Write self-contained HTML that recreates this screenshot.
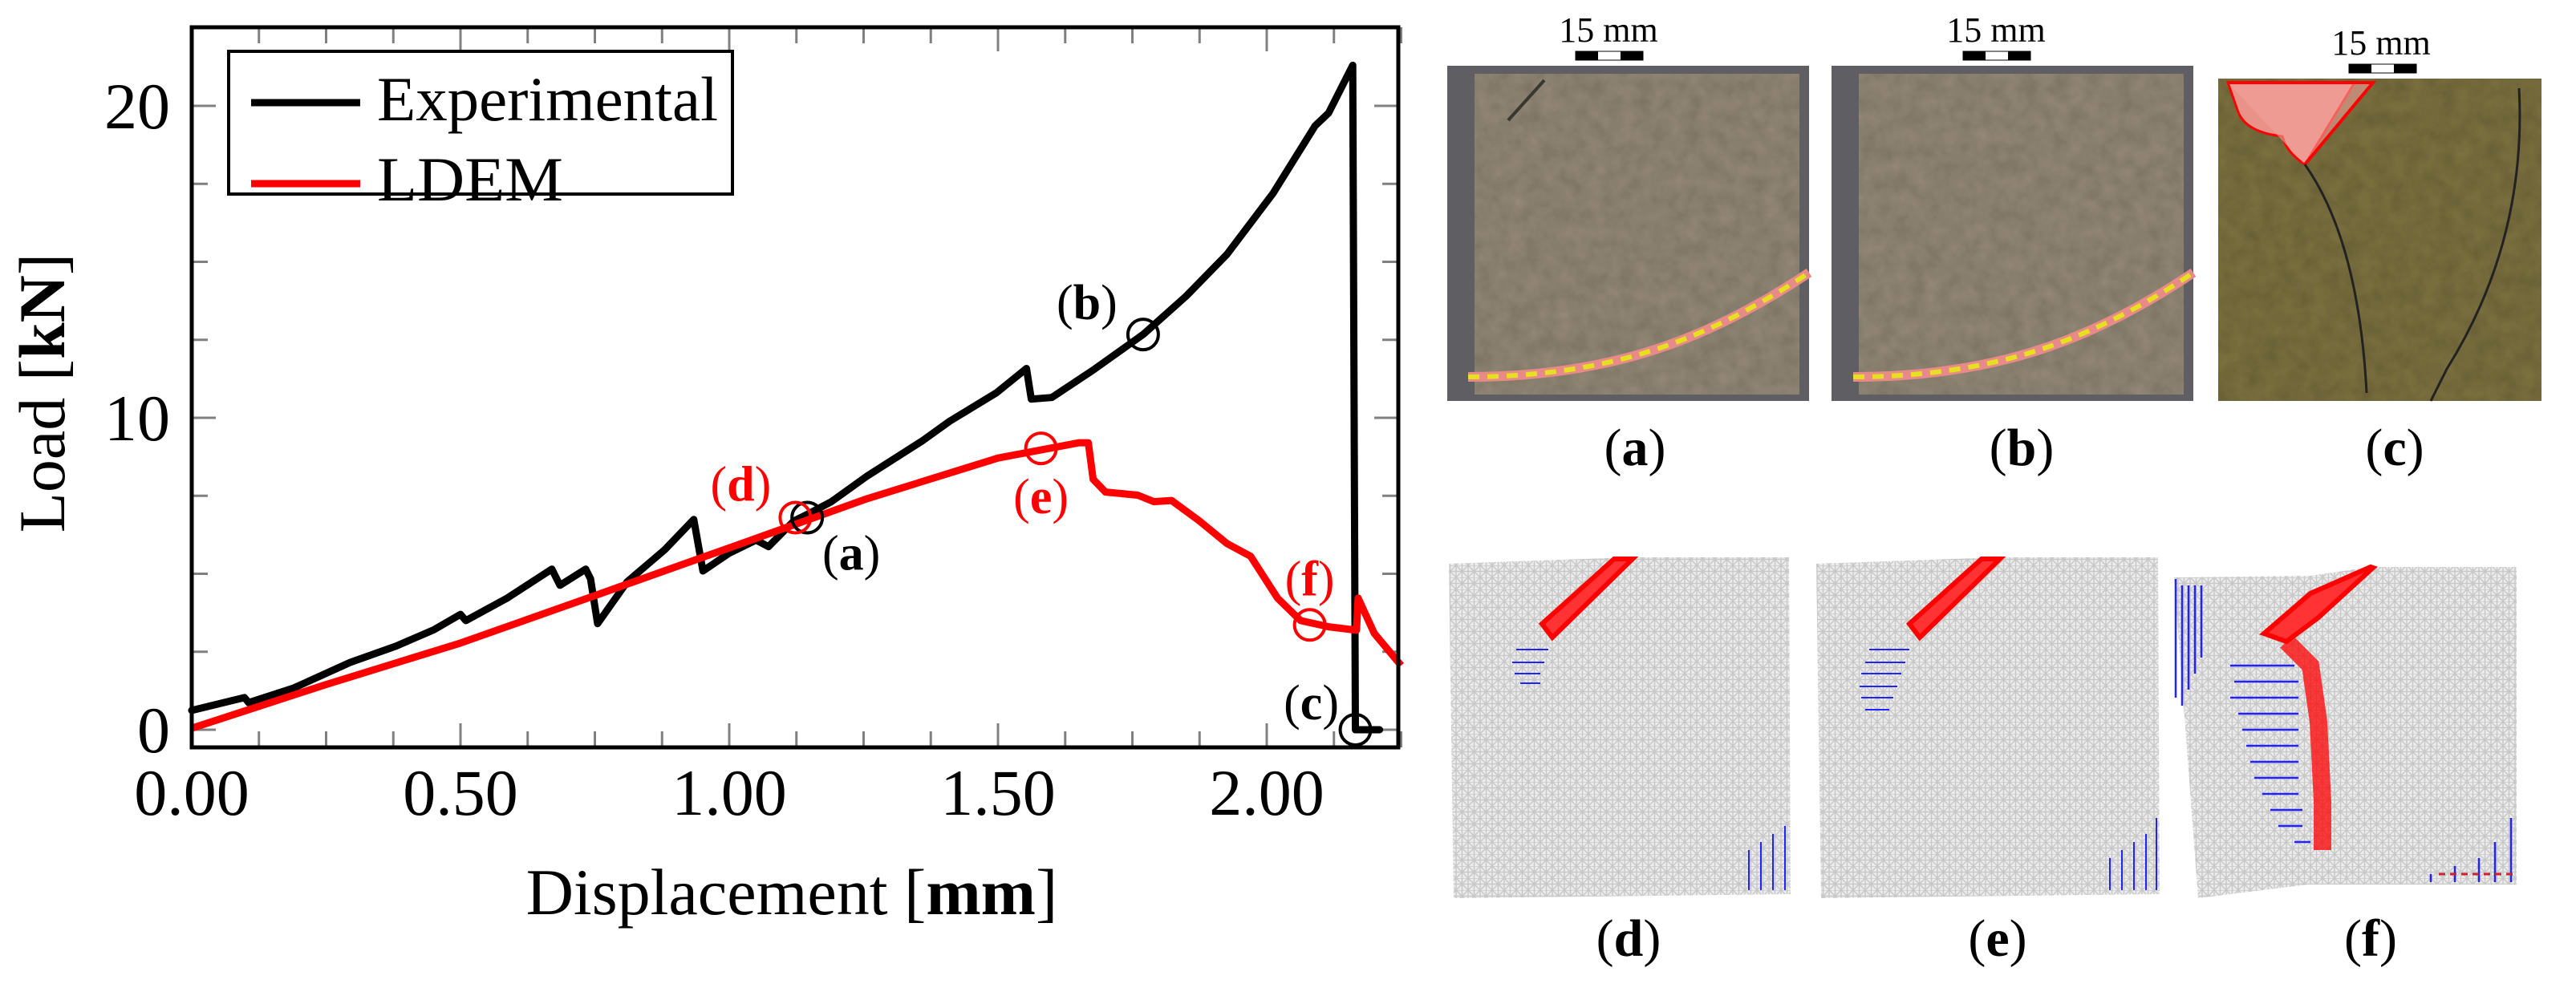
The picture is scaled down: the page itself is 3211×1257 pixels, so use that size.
<!DOCTYPE html>
<html><head><meta charset="utf-8">
<style>
html,body{margin:0;padding:0;background:#fff;}
svg{display:block;}
text{font-family:"Liberation Serif",serif;}
</style></head>
<body>
<svg id="fig" width="3211" height="1257" viewBox="0 0 3211 1257" xmlns="http://www.w3.org/2000/svg">
<defs>
  <pattern id="mesh" width="15" height="15" patternUnits="userSpaceOnUse">
    <rect width="15" height="15" fill="#ececec"/>
    <path d="M0 0H15V15M0 0V15M0 0L15 15M15 0L0 15M7.5 0V15M0 7.5H15" stroke="#c8c8c8" stroke-width="1.5" fill="none"/>
  </pattern>
  <filter id="grain" x="0" y="0" width="100%" height="100%">
    <feTurbulence type="fractalNoise" baseFrequency="0.05" numOctaves="3" seed="3" result="n"/>
    <feColorMatrix in="n" type="matrix" values="0 0 0 0 0  0 0 0 0 0  0 0 0 0 0  0 0 0 0.35 0" result="a"/>
    <feComposite in="a" in2="SourceGraphic" operator="in" result="b"/>
    <feBlend in="SourceGraphic" in2="b" mode="multiply"/>
  </filter>
</defs>

<!-- ===== Chart ===== -->
<g id="chart">
  <g id="grid-ticks"></g>
  <g id="series"></g>
  <g id="markers"></g>
  <rect x="239" y="34" width="1504" height="898" fill="none" stroke="#000" stroke-width="5"/>
  <g id="ticklabels"></g>
  <text x="987" y="1140" font-size="82" text-anchor="middle">Displacement [<tspan font-weight="bold">mm</tspan>]</text>
  <text transform="translate(80,490) rotate(-90)" font-size="82" text-anchor="middle">Load [<tspan font-weight="bold">kN</tspan>]</text>
  <g>
    <rect x="285" y="64" width="628" height="178" fill="#fff" stroke="#000" stroke-width="4"/>
    <line x1="313" y1="128" x2="449" y2="128" stroke="#000" stroke-width="9"/>
    <text x="470" y="150" font-size="78" textLength="425" lengthAdjust="spacingAndGlyphs">Experimental</text>
    <line x1="313" y1="229" x2="449" y2="229" stroke="#f00" stroke-width="9"/>
    <text x="470" y="250" font-size="78" textLength="232" lengthAdjust="spacingAndGlyphs">LDEM</text>
  </g>
</g>

<!-- ===== Photos ===== -->
<g>
  <rect x="1804" y="82" width="451" height="418" fill="#5f5e63"/>
  <rect x="1838" y="92" width="405" height="400" fill="#958a78" filter="url(#grain)"/>
  <path d="M1880 150 L1925 100" stroke="#3a3630" stroke-width="4"/>
  <path d="M1830 470 Q1950 470 2050 440 T2255 340" stroke="#e88a88" stroke-width="12" fill="none"/>
  <path d="M1830 470 Q1950 470 2050 440 T2255 340" stroke="#e6e020" stroke-width="6" stroke-dasharray="14 10" fill="none"/>
</g>
<g>
  <rect x="2283" y="82" width="451" height="418" fill="#5f5e63"/>
  <rect x="2317" y="92" width="405" height="400" fill="#958a78" filter="url(#grain)"/>
  <path d="M2310 470 Q2430 470 2530 440 T2734 340" stroke="#e88a88" stroke-width="12" fill="none"/>
  <path d="M2310 470 Q2430 470 2530 440 T2734 340" stroke="#e6e020" stroke-width="6" stroke-dasharray="14 10" fill="none"/>
</g>
<g>
  <rect x="2765" y="98" width="403" height="402" fill="#7d7240" filter="url(#grain)"/>
  <path d="M2777 103 L2935 103 L2873 205 Q2850 190 2845 170 Q2800 165 2790 140 Z" fill="#e8928a" stroke="#f00" stroke-width="3"/>
  <path d="M2777 103 L2958 103 L2873 205" fill="#f2a29a" fill-opacity="0.6" stroke="#f00" stroke-width="4"/>
  <path d="M2873 205 Q2940 300 2950 490" stroke="#222" stroke-width="3" fill="none"/>
  <path d="M3140 110 Q3150 300 3050 460 L3030 500" stroke="#222" stroke-width="3" fill="none"/>
</g>
<g>
  <text x="2005" y="52" font-size="44" text-anchor="middle">15  mm</text>
  <rect x="1964" y="64" width="84" height="11" fill="#fff" stroke="#000" stroke-width="1"/><rect x="1964" y="64" width="28" height="11" fill="#000"/><rect x="2020" y="64" width="28" height="11" fill="#000"/>
  <text x="2488" y="52" font-size="44" text-anchor="middle">15  mm</text>
  <rect x="2447" y="64" width="84" height="11" fill="#fff" stroke="#000" stroke-width="1"/><rect x="2447" y="64" width="28" height="11" fill="#000"/><rect x="2503" y="64" width="28" height="11" fill="#000"/>
  <text x="2968" y="68" font-size="44" text-anchor="middle">15  mm</text>
  <rect x="2928" y="80" width="84" height="11" fill="#fff" stroke="#000" stroke-width="1"/><rect x="2928" y="80" width="28" height="11" fill="#000"/><rect x="2984" y="80" width="28" height="11" fill="#000"/>
</g>
<g font-size="66" text-anchor="middle">
  <text x="2038" y="580">(<tspan font-weight="bold">a</tspan>)</text>
  <text x="2520" y="580">(<tspan font-weight="bold">b</tspan>)</text>
  <text x="2985" y="580">(<tspan font-weight="bold">c</tspan>)</text>
  <text x="2030" y="1192">(<tspan font-weight="bold">d</tspan>)</text>
  <text x="2490" y="1192">(<tspan font-weight="bold">e</tspan>)</text>
  <text x="2955" y="1192">(<tspan font-weight="bold">f</tspan>)</text>
</g>

<!-- ===== Meshes ===== -->
<g>
  <path d="M1806 703 L2030 695 L2230 695 L2232 1115 L1812 1120 Z" fill="url(#mesh)"/>
  <path d="M1922 778 L2012 697 L2035 697 L1935 795 Z" fill="#f33" stroke="#f00" stroke-width="6"/>
  <g stroke="#22f" stroke-width="2"><path d="M1890 810H1930M1885 826H1925M1888 840H1920M1895 852H1920"/><path d="M2180 1110V1060M2195 1110V1050M2210 1110V1040M2225 1110V1030"/></g>
</g>
<g>
  <path d="M2264 703 L2490 695 L2690 695 L2692 1115 L2270 1120 Z" fill="url(#mesh)"/>
  <path d="M2380 778 L2470 697 L2493 697 L2393 795 Z" fill="#f33" stroke="#f00" stroke-width="6"/>
  <g stroke="#22f" stroke-width="2"><path d="M2330 810H2380M2325 826H2375M2320 840H2370M2318 856H2365M2320 870H2360M2325 885H2355"/><path d="M2630 1110V1070M2645 1110V1060M2660 1110V1050M2675 1110V1040M2688 1110V1020"/></g>
</g>
<g>
  <path d="M2710 720 L2880 718 L2955 707 L3137 707 L3137 1103 L2877 1103 L2740 1120 Z" fill="url(#mesh)"/>
  <path d="M2822 790 L2880 740 L2955 707 L2958 708 L2890 770 L2850 800 Z" fill="#f33" stroke="#f00" stroke-width="6"/>
  <path d="M2850 800 L2880 830 L2890 900 L2895 1000 L2895 1060" stroke="#f00" stroke-width="22" fill="none" stroke-opacity="0.75"/>
  <g stroke="#22f" stroke-width="2.5"><path d="M2712 722V870M2720 730V880M2728 730V860M2736 730V840M2744 730V820"/>
  <path d="M2780 830H2860M2785 850H2865M2780 870H2865M2790 890H2865M2795 910H2865M2800 930H2865M2805 950H2865M2810 970H2865M2820 990H2865M2830 1010H2870M2840 1030H2870M2860 1050H2880"/>
  <path d="M3030 1100V1090M3060 1100V1080M3090 1100V1070M3110 1100V1050M3130 1100V1020"/></g>
  <path d="M3040 1090 L3135 1090" stroke="#c23" stroke-width="3" stroke-dasharray="8 6"/>
</g>

<script>
// ---- Chart data ----
const expX = [0,0.098,0.106,0.19,0.295,0.38,0.45,0.50,0.51,0.587,0.67,0.685,0.733,0.742,0.755,0.81,0.88,0.934,0.951,1.0,1.05,1.073,1.12,1.145,1.19,1.257,1.36,1.41,1.497,1.553,1.562,1.6,1.677,1.77,1.85,1.926,2.012,2.09,2.115,2.16,2.165,2.21];
const expY = [0.62,1.03,0.87,1.34,2.16,2.68,3.2,3.7,3.5,4.22,5.15,4.63,5.15,4.84,3.4,4.74,5.77,6.74,5.09,5.66,6.08,5.87,6.69,6.9,7.31,8.14,9.27,9.89,10.8,11.58,10.6,10.65,11.53,12.67,13.9,15.24,17.2,19.36,19.77,21.3,0,0];
const ldemX = [0,0.25,0.5,0.75,1.0,1.257,1.5,1.651,1.668,1.677,1.7,1.76,1.79,1.823,1.875,1.926,1.97,2.02,2.063,2.115,2.167,2.17,2.2,2.25];
const ldemY = [0.05,1.45,2.78,4.3,5.83,7.41,8.71,9.2,9.2,8.03,7.62,7.52,7.31,7.35,6.69,5.97,5.56,4.22,3.5,3.3,3.19,4.22,3.09,2.06];
const xTicks = [0,0.5,1.0,1.5,2.0];
const xTickLabels = ["0.00","0.50","1.00","1.50","2.00"];
const yTicks = [0,10,20];
const yTickLabels = ["0","10","20"];
const markerNames = ["a","b","c","d","e","f"];
const markerX = [1.145,1.77,2.165,1.123,1.58,2.08];
const markerY = [6.8,12.67,0,6.8,9.02,3.36];

const X0=239, X1=1743, Y0=932, Y1=34;
const xs = v => 239 + 670*v;
const ys = v => 910 - 38.9*v;
const NS="http://www.w3.org/2000/svg";
function mk(tag, attrs, parent){const e=document.createElementNS(NS,tag);for(const k in attrs)e.setAttribute(k,attrs[k]);parent.appendChild(e);return e;}

const tg=document.getElementById('grid-ticks');
for(let v=0; v<=2.25; v+=0.125){
  const major = Math.abs(v/0.5-Math.round(v/0.5))<1e-6;
  const len = major?30:20;
  const t1=mk('line',{x1:xs(v),x2:xs(v),y1:Y0,y2:Y0-len,stroke:'#808080','stroke-width':3},tg);
  
  
  const t2=mk('line',{x1:xs(v),x2:xs(v),y1:Y1,y2:Y1+len,stroke:'#808080','stroke-width':3},tg);
  
  
}
for(let v=0; v<=22.5; v+=2.5){
  const major = v%10===0;
  const len = major?30:20;
  const t1=mk('line',{x1:X0,x2:X0+len,y1:ys(v),y2:ys(v),stroke:'#808080','stroke-width':3},tg);
  
  
  const t2=mk('line',{x1:X1,x2:X1-len,y1:ys(v),y2:ys(v),stroke:'#808080','stroke-width':3},tg);
  
  
}
const tl=document.getElementById('ticklabels');
xTicks.forEach((v,i)=>{
  const t=mk('text',{x:xs(v),y:1016,'font-size':82,'text-anchor':'middle'},tl);
  t.textContent=xTickLabels[i];
  
  
});
yTicks.forEach((v,i)=>{
  const t=mk('text',{x:212,y:ys(v)+28,'font-size':82,'text-anchor':'end'},tl);
  t.textContent=yTickLabels[i];
  
  
});

const sg=document.getElementById('series');
const pts=(xa,ya)=>xa.map((x,i)=>xs(x).toFixed(1)+','+ys(ya[i]).toFixed(1)).join(' ');
const lE=mk('polyline',{points:pts(expX,expY),fill:'none',stroke:'#000','stroke-width':9,'stroke-linejoin':'round','stroke-linecap':'round'},sg);


const lL=mk('polyline',{points:pts(ldemX,ldemY),fill:'none',stroke:'#f00','stroke-width':9,'stroke-linejoin':'round'},sg);



const mg=document.getElementById('markers');
const labOff=[[55,45],[-70,-39],[-55,-33],[-68,-41],[0,61],[0,-57]];
markerNames.forEach((n,i)=>{
  const red = i>=3;
  const col = red?'#f00':'#000';
  const c=mk('circle',{cx:xs(markerX[i]),cy:ys(markerY[i]),r:19,fill:'none',stroke:col,'stroke-width':4},mg);
  
  
  const t=mk('text',{x:xs(markerX[i])+labOff[i][0],y:ys(markerY[i])+labOff[i][1]+20,'font-size':62,'text-anchor':'middle',fill:col},mg);
  
  
  t.appendChild(document.createTextNode('('));
  const b=mk('tspan',{'font-weight':'bold'},t);
  b.textContent=n;
  t.appendChild(document.createTextNode(')'));
});
</script>
</svg>
</body></html>
